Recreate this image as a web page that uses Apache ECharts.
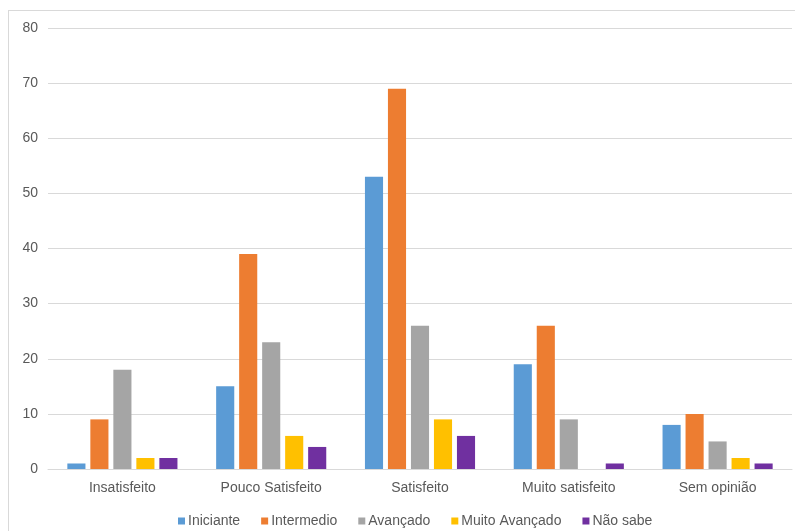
<!DOCTYPE html>
<html><head><meta charset="utf-8">
<script src="https://cdn.jsdelivr.net/npm/echarts@6/dist/echarts.min.js"></script>
<style>html,body{margin:0;padding:0;background:#fff}#c{width:795px;height:531px}
#b{position:absolute;left:8px;top:10px;width:800px;height:530px;border:1px solid #d9d9d9;box-sizing:border-box;pointer-events:none}</style>
</head><body><div id="c"></div><div id="b"></div>
<script>
var categories = ['Insatisfeito','Pouco Satisfeito','Satisfeito','Muito satisfeito','Sem opinião'];
var seriesNames = ['Iniciante','Intermedio','Avançado','Muito Avançado','Não sabe'];
var iniciante = [1,15,53,19,8];
var intermedio = [9,39,69,26,10];
var avancado = [18,23,26,9,5];
var muitoAvancado = [2,6,9,0,2];
var naoSabe = [2,4,6,1,1];
var colors = ['#5B9BD5','#ED7D31','#A5A5A5','#FFC000','#7030A0'];
var values = [iniciante,intermedio,avancado,muitoAvancado,naoSabe];
var chart = echarts.init(document.getElementById('c'));
chart.setOption({
  animation:false,
  color:colors,
  textStyle:{fontFamily:'Arial, Liberation Sans, sans-serif'},
  grid:{left:48,right:3,top:28,bottom:62},
  legend:{top:509,left:173,itemWidth:7,itemHeight:7,itemGap:21,icon:'rect',
    textStyle:{color:'#595959',fontSize:14,padding:[0,0,0,-2]},data:seriesNames},
  xAxis:{type:'category',data:categories,axisTick:{show:false},
    axisLine:{lineStyle:{color:'#d9d9d9'}},
    axisLabel:{color:'#595959',fontSize:14,margin:12}},
  yAxis:{type:'value',min:0,max:80,interval:10,
    axisLabel:{color:'#595959',fontSize:14,margin:10},
    splitLine:{lineStyle:{color:'#d9d9d9'}},axisLine:{show:false},axisTick:{show:false}},
  series:seriesNames.map(function(n,i){return {name:n,type:'bar',data:values[i],barGap:'27%',barCategoryGap:'26%'};})
});
</script></body></html>
